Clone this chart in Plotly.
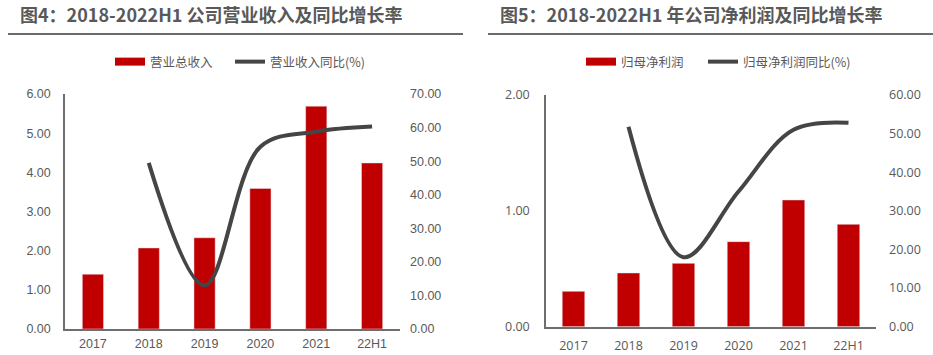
import plotly.graph_objects as go

categories = ["2017", "2018", "2019", "2020", "2021", "22H1"]
revenue = [1.40, 2.07, 2.33, 3.59, 5.69, 4.24]
revenue_yoy = [None, 49.5, 13.0, 54.3, 58.8, 60.3]
net_profit = [0.305, 0.464, 0.547, 0.734, 1.094, 0.884]
profit_yoy = [None, 51.8, 18.0, 35.0, 51.0, 52.8]

title_left = "图4：2018-2022H1 公司营业收入及同比增长率"
title_right = "图5：2018-2022H1 年公司净利润及同比增长率"
name_rev = "营业总收入"
name_rev_yoy = "营业收入同比(%)"
name_np = "归母净利润"
name_np_yoy = "归母净利润同比(%)"

W, H = 933, 355
RED = "#C00000"
LINE = "#454545"
TXT = "#595959"
AX = "#6e6e6e"
CJK = "Noto Sans CJK SC"

def px(x):
    return x / W

def py(y):
    return 1 - y / H

fig = go.Figure()

# Left chart
fig.add_trace(go.Bar(x=categories, y=revenue, marker_color=RED, width=0.38,
                     xaxis="x", yaxis="y", showlegend=False, hoverinfo="y"))
fig.add_trace(go.Scatter(x=categories, y=revenue_yoy, mode="lines",
                         line=dict(color=LINE, width=4, shape="spline", smoothing=1.0),
                         xaxis="x", yaxis="y2", showlegend=False))
# Right chart
fig.add_trace(go.Bar(x=categories, y=net_profit, marker_color=RED, width=0.41,
                     xaxis="x2", yaxis="y3", showlegend=False, hoverinfo="y"))
fig.add_trace(go.Scatter(x=categories, y=profit_yoy, mode="lines",
                         line=dict(color=LINE, width=4, shape="spline", smoothing=1.0),
                         xaxis="x2", yaxis="y4", showlegend=False))

# legend entries
fig.add_trace(go.Scatter(x=[None], y=[None], mode="lines", name=name_rev,
                         line=dict(color=RED, width=8), xaxis="x", yaxis="y", legend="legend"))
fig.add_trace(go.Scatter(x=[None], y=[None], mode="lines", name=name_rev_yoy,
                         line=dict(color=LINE, width=4), xaxis="x", yaxis="y", legend="legend2"))
fig.add_trace(go.Scatter(x=[None], y=[None], mode="lines", name=name_np,
                         line=dict(color=RED, width=8), xaxis="x2", yaxis="y3", legend="legend3"))
fig.add_trace(go.Scatter(x=[None], y=[None], mode="lines", name=name_np_yoy,
                         line=dict(color=LINE, width=4), xaxis="x2", yaxis="y3", legend="legend4"))

tick_font_l = dict(family="Liberation Sans, Arial", size=12.5, color=TXT)
tick_font_r = dict(family="Open Sans, Noto Sans", size=12.5, color=TXT)

def leg(xpix):
    return dict(x=px(xpix), y=py(62), xanchor="left", yanchor="middle",
                orientation="h", bgcolor="rgba(0,0,0,0)",
                font=dict(family=CJK, size=12.5, color=TXT))

fig.update_layout(
    width=W, height=H,
    margin=dict(l=0, r=0, t=0, b=0, autoexpand=False),
    paper_bgcolor="white", plot_bgcolor="white",
    legend=leg(110), legend2=leg(230),
    legend3=leg(581), legend4=leg(703),
    xaxis=dict(domain=[px(65), px(400)], anchor="y", type="category",
               showline=True, linecolor=AX, linewidth=1.5, ticks="",
               tickfont=tick_font_l, showgrid=False, ticklabelstandoff=2,
               automargin=False),
    yaxis=dict(domain=[py(329), py(94)], anchor="x", range=[0, 6], dtick=1,
               tickformat=".2f", showline=True, linecolor=AX, linewidth=1.5,
               showgrid=False, zeroline=False, ticks="", tickfont=tick_font_l,
               ticklabelstandoff=10, automargin=False),
    yaxis2=dict(overlaying="y", side="right", anchor="x", range=[0, 70], dtick=10,
                tickformat=".2f", showline=False, showgrid=False, zeroline=False,
                ticks="", tickfont=tick_font_l, ticklabelstandoff=9, automargin=False),
    xaxis2=dict(domain=[px(546), px(876)], anchor="y3", type="category",
                showline=True, linecolor=AX, linewidth=1.5, ticks="",
                tickfont=tick_font_r, showgrid=False, ticklabelstandoff=7,
                automargin=False),
    yaxis3=dict(domain=[py(326.7), py(95)], anchor="x2", range=[0, 2], dtick=1,
                tickformat=".2f", showline=True, linecolor=AX, linewidth=1.5,
                showgrid=False, zeroline=False, ticks="", tickfont=tick_font_r,
                ticklabelstandoff=12, automargin=False),
    yaxis4=dict(overlaying="y3", side="right", anchor="x2", range=[0, 60], dtick=10,
                tickformat=".2f", showline=False, showgrid=False, zeroline=False,
                ticks="", tickfont=tick_font_r, ticklabelstandoff=12, automargin=False),
)

fig.add_annotation(text=title_left, x=px(18), y=py(14), xref="paper", yref="paper",
                   xanchor="left", yanchor="middle", showarrow=False,
                   font=dict(family=CJK, size=18, color=TXT, weight="bold"))
fig.add_annotation(text=title_right, x=px(498), y=py(14), xref="paper", yref="paper",
                   xanchor="left", yanchor="middle", showarrow=False,
                   font=dict(family=CJK, size=18, color=TXT, weight="bold"))

fig.add_shape(type="line", xref="paper", yref="paper", x0=px(8), x1=px(463),
              y0=py(34), y1=py(34), line=dict(color="#6a6a6a", width=2))
fig.add_shape(type="line", xref="paper", yref="paper", x0=px(488), x1=px(933),
              y0=py(34), y1=py(34), line=dict(color="#6a6a6a", width=2))

fig.write_html(
    "out.html",
    config={"displayModeBar": False},
    post_script="document.body.style.margin='0';document.body.style.padding='0';document.body.style.overflow='hidden';",
)
